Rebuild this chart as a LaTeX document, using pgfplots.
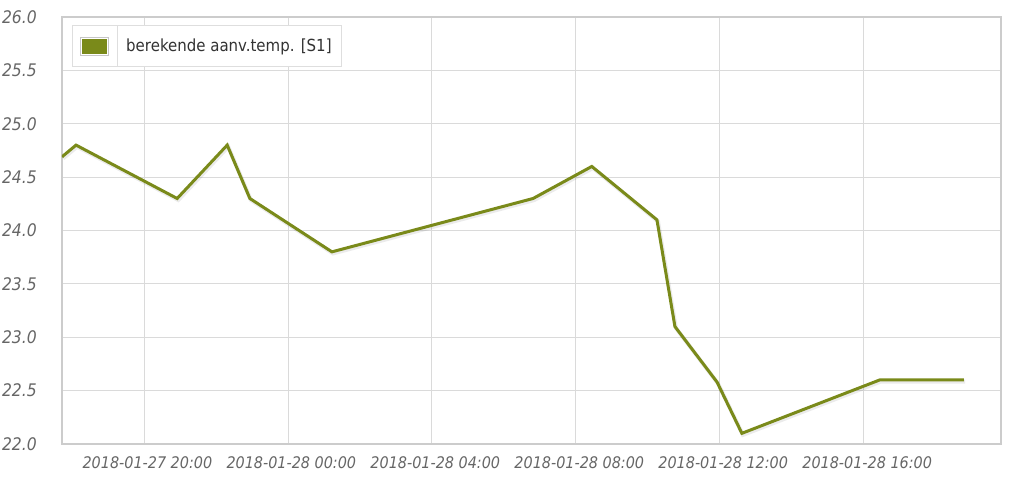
\documentclass[border=0pt]{standalone}
\usepackage{fontspec}
\setmainfont{DejaVu Sans Condensed}
\usepackage{pgfplots}
\pgfplotsset{compat=1.18}
\definecolor{lineolive}{RGB}{122,138,26}
\definecolor{gridgray}{RGB}{218,218,218}
\definecolor{axisgray}{RGB}{204,204,204}
\definecolor{ticktext}{RGB}{102,102,102}
\definecolor{legtext}{RGB}{51,51,51}
\definecolor{leggray}{RGB}{222,222,222}
\begin{document}
\begin{tikzpicture}
\useasboundingbox (-46.5pt,-27.75pt) rectangle (712.5pt,333pt);
\begin{axis}[
  scale only axis, width=704.25pt, height=320.25pt,
  xmin=-6.28, xmax=19.81, ymin=22, ymax=26,
  xtick={-4,0,4,8,12,16},
  xticklabels={2018-01-27 20:00,2018-01-28 00:00,2018-01-28 04:00,2018-01-28 08:00,2018-01-28 12:00,2018-01-28 16:00},
  ytick={22,22.5,23,23.5,24,24.5,25,25.5,26},
  yticklabel={\pgfmathprintnumber[fixed,fixed zerofill,precision=1]{\tick}},
  /pgf/number format/assume math mode=true,
  grid=major,
  major grid style={draw=gridgray, line width=0.75pt},
  axis line style={draw=axisgray, line width=1.1pt},
  major tick length=0pt,
  xticklabel style={anchor=center, yshift=-14.25pt, xshift=2.5pt, font=\fontsize{12}{14}\selectfont\itshape, text=ticktext},
  yticklabel style={anchor=east, inner sep=0pt, xshift=-18.75pt, font=\fontsize{13}{15}\selectfont\itshape, text=ticktext},
  legend style={at={(axis description cs:0.0107,0.981)}, anchor=north west,
    draw=leggray, line width=0.75pt, inner xsep=5.25pt, inner ysep=0pt,
    font=\fontsize{12.5}{15}\selectfont, text=legtext,
    /tikz/every odd column/.append style={column sep=4.5pt}},
  legend image code/.code={
    \draw[fill=lineolive, draw=gray!45, line width=0.75pt] (0pt,-6.75pt) rectangle (21pt,6.75pt);
    \draw[white, line width=0.6pt] (0.8pt,-5.95pt) rectangle (20.2pt,5.95pt);
    \draw[leggray, line width=0.75pt] (27.75pt,-15pt) -- (27.75pt,15pt);
  },
]
\addplot[black, opacity=0.08, line width=3pt, forget plot, shift={(0.8pt,-1.2pt)}] coordinates {
  (-6.28,24.69) (-5.89,24.80) (-3.08,24.30) (-1.69,24.80) (-1.06,24.30) (1.22,23.80)
  (6.81,24.30) (8.44,24.60) (10.25,24.10) (10.75,23.10) (11.92,22.58) (12.61,22.10)
  (16.44,22.60) (18.78,22.60)
};
\addplot[lineolive, line width=2.25pt, line join=miter] coordinates {
  (-6.28,24.69) (-5.89,24.80) (-3.08,24.30) (-1.69,24.80) (-1.06,24.30) (1.22,23.80)
  (6.81,24.30) (8.44,24.60) (10.25,24.10) (10.75,23.10) (11.92,22.58) (12.61,22.10)
  (16.44,22.60) (18.78,22.60)
};
\addlegendentry{berekende aanv.temp. [S1]}
\end{axis}
\end{tikzpicture}
\end{document}
